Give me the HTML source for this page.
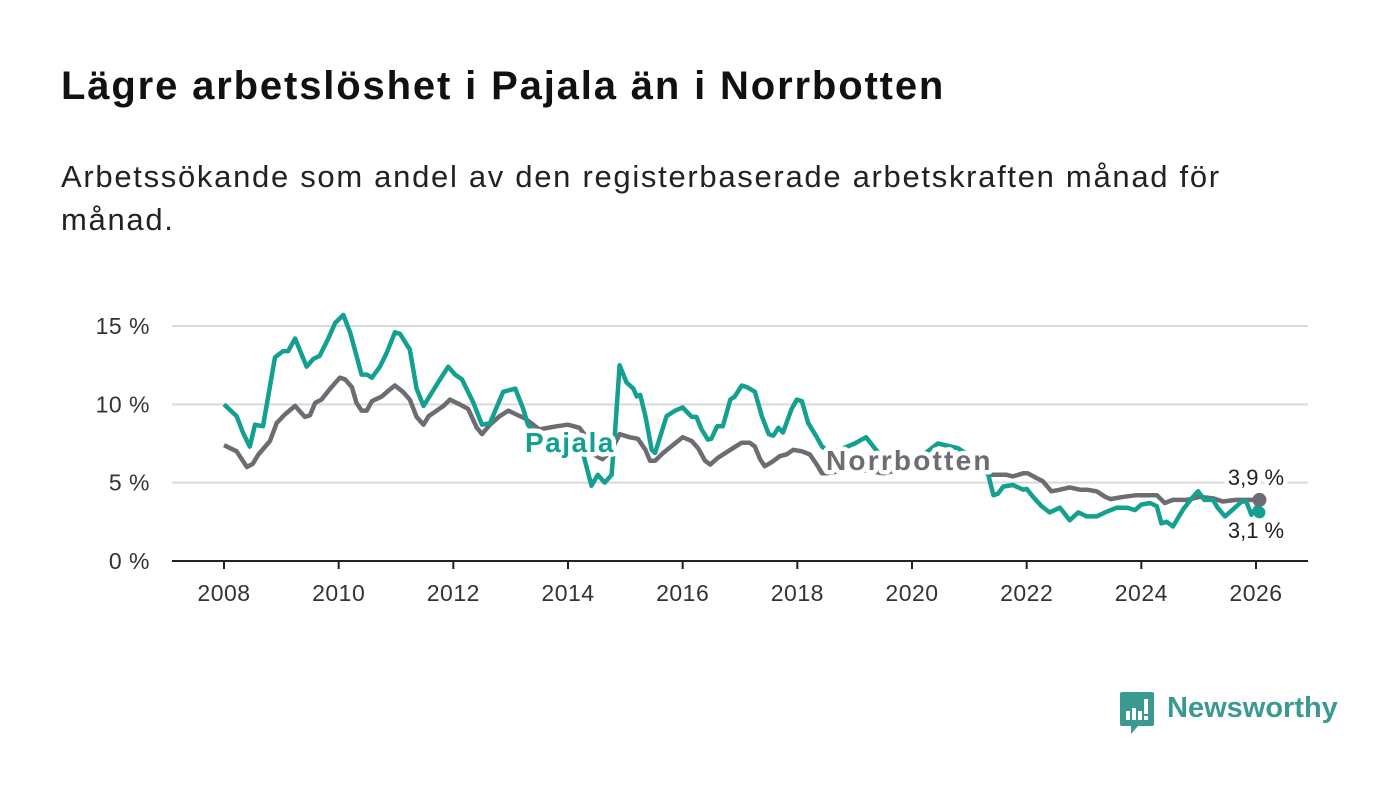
<!DOCTYPE html>
<html><head><meta charset="utf-8">
<style>
body{margin:0;background:#fff;width:1400px;height:794px;overflow:hidden;font-family:"Liberation Sans",sans-serif;}
#title{position:absolute;left:61px;top:64px;font-size:40px;font-weight:bold;color:#111;margin:0;letter-spacing:1.85px}
#sub{position:absolute;left:61px;top:155px;font-size:31px;color:#222;line-height:43px;width:1200px;margin:0;letter-spacing:1.7px}
svg{position:absolute;left:0;top:0}
</style></head><body>
<h1 id="title">Lägre arbetslöshet i Pajala än i Norrbotten</h1>
<p id="sub">Arbetssökande som andel av den registerbaserade arbetskraften månad för månad.</p>
<svg id="chart" width="1400" height="794"></svg>
<script>
const yTicks=[0,5,10,15];
const yTickLabels=["0 %","5 %","10 %","15 %"];
const xTicks=[2008,2010,2012,2014,2016,2018,2020,2022,2024,2026];
const pajalaX=[2008.0,2008.22,2008.33,2008.45,2008.54,2008.68,2008.89,2009.03,2009.12,2009.24,2009.44,2009.56,2009.67,2009.82,2009.94,2010.08,2010.2,2010.4,2010.49,2010.58,2010.72,2010.84,2010.98,2011.07,2011.24,2011.36,2011.48,2011.6,2011.77,2011.91,2012.03,2012.15,2012.35,2012.5,2012.64,2012.87,2013.08,2013.22,2013.3,2013.5,2013.8,2014.0,2014.15,2014.26,2014.41,2014.52,2014.64,2014.76,2014.82,2014.9,2015.02,2015.14,2015.2,2015.26,2015.35,2015.46,2015.52,2015.72,2015.87,2016.0,2016.16,2016.24,2016.33,2016.44,2016.5,2016.6,2016.7,2016.83,2016.91,2017.03,2017.12,2017.26,2017.38,2017.5,2017.58,2017.67,2017.75,2017.9,2017.99,2018.08,2018.19,2018.34,2018.43,2018.6,2019.0,2019.2,2019.5,2019.8,2020.2,2020.45,2020.8,2021.1,2021.33,2021.42,2021.5,2021.59,2021.76,2021.94,2022.0,2022.11,2022.26,2022.4,2022.58,2022.75,2022.9,2023.05,2023.22,2023.4,2023.57,2023.75,2023.89,2024.0,2024.15,2024.27,2024.35,2024.44,2024.55,2024.73,2024.88,2024.99,2025.1,2025.25,2025.33,2025.46,2025.6,2025.75,2025.83,2025.92,2026.0,2026.06];
const pajalaY=[10.0,9.25,8.2,7.3,8.7,8.6,13.0,13.4,13.4,14.2,12.4,12.9,13.1,14.2,15.2,15.7,14.6,11.9,11.9,11.7,12.4,13.3,14.6,14.5,13.5,11.0,9.9,10.6,11.6,12.4,11.9,11.6,10.1,8.7,8.8,10.8,11.0,9.7,8.7,7.8,7.0,7.6,7.5,6.9,4.8,5.5,5.0,5.5,8.2,12.5,11.4,11.0,10.5,10.6,9.25,7.1,6.9,9.25,9.6,9.8,9.2,9.2,8.4,7.75,7.8,8.6,8.6,10.3,10.5,11.2,11.1,10.8,9.25,8.1,8.0,8.5,8.2,9.7,10.3,10.2,8.8,7.9,7.3,6.9,7.5,7.9,6.5,5.9,6.8,7.5,7.2,6.5,5.5,4.2,4.3,4.75,4.85,4.55,4.6,4.1,3.5,3.1,3.4,2.6,3.1,2.85,2.85,3.15,3.4,3.4,3.25,3.6,3.7,3.5,2.4,2.5,2.2,3.3,4.0,4.45,3.9,3.9,3.4,2.85,3.3,3.8,3.8,2.95,3.4,3.1];
const norrX=[2008.0,2008.22,2008.4,2008.5,2008.6,2008.8,2008.92,2009.06,2009.24,2009.41,2009.5,2009.59,2009.7,2009.85,2010.02,2010.11,2010.23,2010.31,2010.4,2010.49,2010.58,2010.75,2010.86,2010.98,2011.12,2011.24,2011.36,2011.48,2011.57,2011.71,2011.83,2011.94,2012.11,2012.26,2012.41,2012.5,2012.64,2012.81,2012.96,2013.1,2013.25,2013.5,2013.8,2014.0,2014.2,2014.3,2014.45,2014.6,2014.75,2014.9,2015.07,2015.22,2015.35,2015.43,2015.52,2015.66,2015.83,2016.0,2016.16,2016.27,2016.39,2016.48,2016.62,2016.83,2017.03,2017.17,2017.26,2017.35,2017.43,2017.55,2017.7,2017.81,2017.93,2018.08,2018.22,2018.34,2018.43,2018.51,2019.0,2019.5,2020.0,2020.4,2020.8,2021.1,2021.33,2021.42,2021.65,2021.76,2021.94,2022.02,2022.17,2022.28,2022.43,2022.58,2022.75,2022.93,2023.05,2023.22,2023.37,2023.46,2023.69,2023.92,2024.15,2024.27,2024.41,2024.55,2024.79,2025.02,2025.25,2025.42,2025.65,2025.83,2026.06];
const norrY=[7.4,7.0,6.0,6.2,6.8,7.65,8.8,9.35,9.9,9.2,9.3,10.1,10.3,11.0,11.7,11.6,11.1,10.1,9.6,9.6,10.2,10.5,10.85,11.2,10.8,10.3,9.2,8.7,9.25,9.6,9.9,10.3,10.0,9.7,8.5,8.1,8.7,9.25,9.6,9.35,9.1,8.4,8.6,8.7,8.5,8.0,6.8,6.5,7.0,8.1,7.9,7.8,7.1,6.4,6.4,6.9,7.4,7.9,7.65,7.2,6.4,6.15,6.6,7.1,7.55,7.55,7.3,6.5,6.05,6.3,6.7,6.8,7.1,7.0,6.8,6.15,5.6,5.6,5.9,5.6,6.0,6.5,6.8,6.3,5.5,5.5,5.5,5.4,5.6,5.6,5.3,5.1,4.45,4.55,4.7,4.55,4.55,4.45,4.1,3.95,4.1,4.2,4.2,4.2,3.7,3.9,3.9,4.1,4.0,3.8,3.9,3.9,3.9];
const NS='http://www.w3.org/2000/svg';
const svg=document.getElementById('chart');
const X0=172,X1=1308;
const xs=v=>224+(v-2008)*(1256-224)/18;
const ys=v=>561-v*(561-326)/15;
function mk(t,a,txt){const e=document.createElementNS(NS,t);for(const k in a)e.setAttribute(k,a[k]);if(txt!==undefined)e.textContent=txt;svg.appendChild(e);return e;}
yTicks.forEach((t,i)=>{
 if(t>0){const g=mk('line',{x1:X0,x2:X1,y1:ys(t),y2:ys(t),stroke:'#d9d9d9','stroke-width':2});
 
 }
 const l=mk('text',{x:150,y:ys(t)+8,'text-anchor':'end','font-size':23,'letter-spacing':0.5,fill:'#333','font-family':'Liberation Sans, sans-serif'},yTickLabels[i]);
 
 
});
const ax=mk('line',{x1:X0,x2:X1,y1:561,y2:561,stroke:'#222','stroke-width':2});


xTicks.forEach(t=>{
 const tk=mk('line',{x1:xs(t),x2:xs(t),y1:561,y2:569,stroke:'#222','stroke-width':2});
 
 
 const l=mk('text',{x:xs(t),y:601,'text-anchor':'middle','font-size':23,'letter-spacing':0.5,fill:'#333','font-family':'Liberation Sans, sans-serif'},t);
 
 
});
function path(xa,ya){return xa.map((x,i)=>(i?'L':'M')+xs(x).toFixed(1)+','+ys(ya[i]).toFixed(1)).join('');}
const nl=mk('path',{d:path(norrX,norrY),fill:'none',stroke:'#6d6c72','stroke-width':4.5,'stroke-linejoin':'round'});


const pl=mk('path',{d:path(pajalaX,pajalaY),fill:'none',stroke:'#14a091','stroke-width':4.5,'stroke-linejoin':'round'});


const nd=mk('circle',{cx:xs(norrX[norrX.length-1]),cy:ys(norrY[norrY.length-1]),r:7,fill:'#6d6c72'});


const pd=mk('circle',{cx:xs(pajalaX[pajalaX.length-1]),cy:ys(pajalaY[pajalaY.length-1]),r:6,fill:'#14a091'});


const lab=(x,y,txt,col,name,bold,anchor,ls)=>{const e=mk('text',{x:x,y:y,'font-size':bold?28:22,'letter-spacing':ls||0,'font-weight':bold?'bold':'normal',fill:col,stroke:'#fff','stroke-width':9,'stroke-linejoin':'round','paint-order':'stroke','text-anchor':anchor||'start','font-family':'Liberation Sans, sans-serif'},txt);return e;};
lab(525,452,'Pajala','#14a091','pajala-label',true,'start',1.5);
lab(826,470,'Norrbotten','#6d6c72','norrbotten-label',true,'start',2.2);
lab(1256,485,(norrY[norrY.length-1]).toFixed(1).replace('.',',')+' %','#222','norrbotten-end-value',false,'middle');
lab(1256,538,(pajalaY[pajalaY.length-1]).toFixed(1).replace('.',',')+' %','#222','pajala-end-value',false,'middle');
</script>
<div style="position:absolute;left:1120px;top:692px;">
 <svg width="40" height="44" style="position:absolute;left:0;top:0">
  <path d="M2 0H32Q34 0 34 2V32Q34 34 32 34H18L11 42V34H2Q0 34 0 32V2Q0 0 2 0Z" fill="#3a9a92"/>
  <rect x="6" y="19" width="4" height="9" fill="#fff"/><rect x="12" y="16" width="4" height="12" fill="#fff"/><rect x="18" y="19" width="4" height="9" fill="#fff"/><rect x="24" y="7" width="4" height="15" fill="#fff"/><rect x="24" y="24" width="4" height="4" fill="#fff"/>
 </svg>
 <span style="position:absolute;left:47px;top:0px;font-size:29px;font-weight:bold;color:#3a9a92;white-space:nowrap;">Newsworthy</span>
</div>
</body></html>
